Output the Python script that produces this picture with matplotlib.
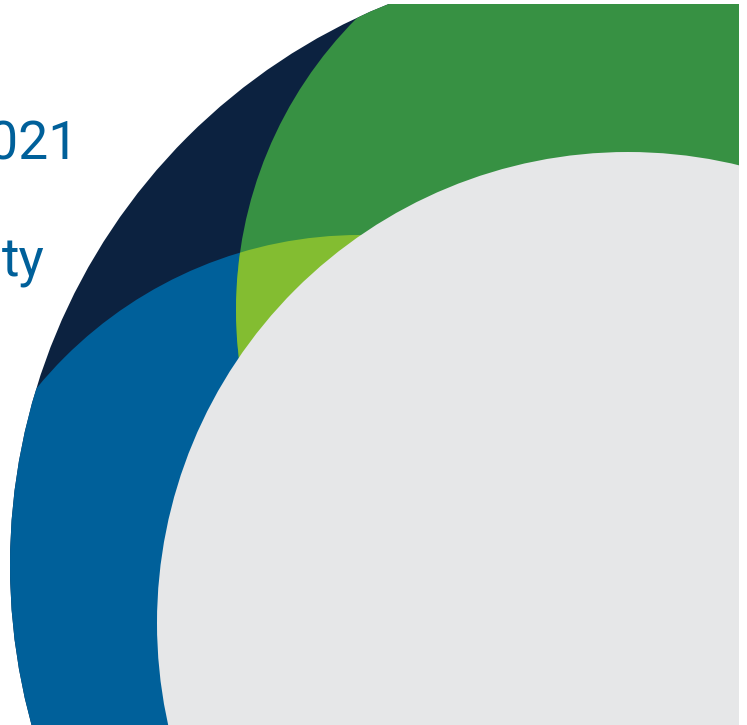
import matplotlib
matplotlib.use("Agg")
import matplotlib.pyplot as plt
from matplotlib.patches import Circle

# circles (pixel coords, y down): outer navy, blue, green, grey
names = ["outer", "blue", "green", "grey"]
centers = [(615, 565), (360, 653), (649, 310), (628, 623)]
radii = [605, 418, 413, 471]
colors = {"outer": "#0C2240", "blue": "#00609A", "green": "#379143",
          "lime": "#83BD31", "grey": "#E6E7E8"}

labels = ["2021", "ty"]
label_pos = [(79, 159), (45, 276)]
text_color = "#00609A"

W, H = 747, 725
fig = plt.figure(figsize=(W / 100, H / 100), dpi=100)
# axes area = visible artwork (white strip right and top)
ax = fig.add_axes([0, 0, 739 / W, (H - 4) / H])
ax.set_xlim(0, 739)
ax.set_ylim(H, 4)
ax.axis("off")

c = {n: (ctr, r) for n, ctr, r in zip(names, centers, radii)}

outer = Circle(c["outer"][0], c["outer"][1], color=colors["outer"], lw=0)
ax.add_patch(outer)

blue = Circle(c["blue"][0], c["blue"][1], color=colors["blue"], lw=0)
ax.add_patch(blue)
blue.set_clip_path(outer)

green = Circle(c["green"][0], c["green"][1], color=colors["green"], lw=0)
ax.add_patch(green)
green.set_clip_path(outer)

# overlap of blue and green
lime = Circle(c["green"][0], c["green"][1], color=colors["lime"], lw=0)
ax.add_patch(lime)
lime.set_clip_path(blue)

grey = Circle(c["grey"][0], c["grey"][1], color=colors["grey"], lw=0)
ax.add_patch(grey)

for s, (x, y) in zip(labels, label_pos):
    ax.text(x, y, s, ha="right", va="baseline", fontsize=38.5,
            family="Roboto", color=text_color)

fig.savefig("out.png", dpi=100)
